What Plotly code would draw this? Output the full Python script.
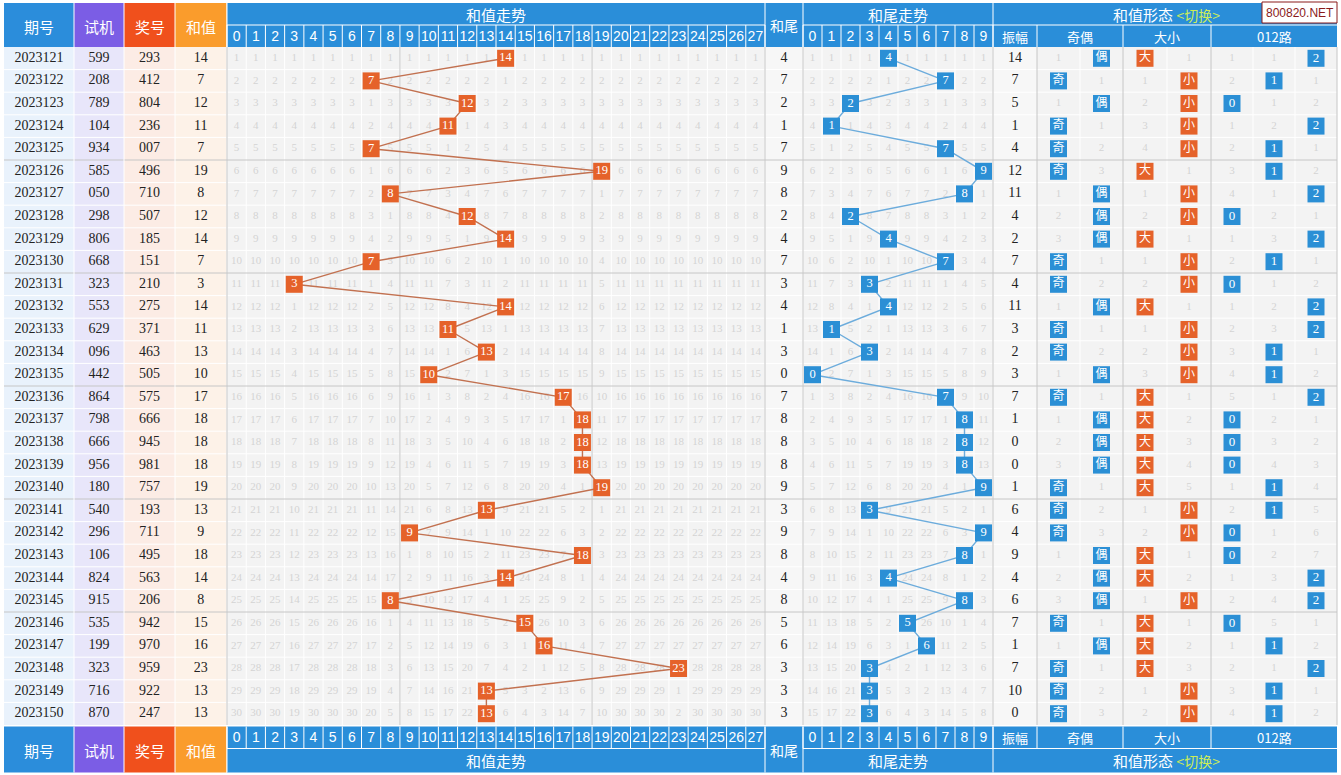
import plotly.graph_objects as go

# ---------------- data ----------------
issues = ["2023121", "2023122", "2023123", "2023124", "2023125", "2023126", "2023127", "2023128",
          "2023129", "2023130", "2023131", "2023132", "2023133", "2023134", "2023135", "2023136",
          "2023137", "2023138", "2023139", "2023140", "2023141", "2023142", "2023143", "2023144",
          "2023145", "2023146", "2023147", "2023148", "2023149", "2023150"]
test_nums = ["599", "208", "789", "104", "934", "585", "050", "298", "806", "668", "323", "553",
             "629", "096", "442", "864", "798", "666", "956", "180", "540", "296", "106", "824",
             "915", "535", "199", "323", "716", "870"]
draw_nums = ["293", "412", "804", "236", "007", "496", "710", "507", "185", "151", "210", "275",
             "371", "463", "505", "575", "666", "945", "981", "757", "193", "711", "495", "563",
             "206", "942", "970", "959", "922", "247"]
sums = [14, 7, 12, 11, 7, 19, 8, 12, 14, 7, 3, 14, 11, 13, 10, 17, 18, 18, 18, 19, 13, 9, 18, 14,
        8, 15, 16, 23, 13, 13]
tails = [4, 7, 2, 1, 7, 9, 8, 2, 4, 7, 3, 4, 1, 3, 0, 7, 8, 8, 8, 9, 3, 9, 8, 4, 8, 5, 6, 3, 3, 3]
amplitude = [14, 7, 5, 1, 4, 12, 11, 4, 2, 7, 4, 11, 3, 2, 3, 7, 1, 0, 0, 1, 6, 4, 9, 4, 6, 7, 1,
             7, 10, 0]
parity = ["偶", "奇", "偶", "奇", "奇", "奇", "偶", "偶", "偶", "奇", "奇", "偶", "奇", "奇", "偶",
          "奇", "偶", "偶", "偶", "奇", "奇", "奇", "偶", "偶", "偶", "奇", "偶", "奇", "奇", "奇"]
size_lbl = ["大", "小", "小", "小", "小", "大", "小", "小", "大", "小", "小", "大", "小", "小", "小",
            "大", "大", "大", "大", "大", "小", "小", "大", "大", "小", "大", "大", "大", "小", "小"]
route = [2, 1, 0, 2, 1, 1, 2, 0, 2, 1, 0, 2, 2, 1, 1, 2, 0, 0, 0, 1, 1, 0, 0, 2, 2, 0, 1, 2, 1, 1]
sum_ticks = [str(v) for v in range(28)]
tail_ticks = [str(v) for v in range(10)]
parity_cats = ["奇", "偶"]
size_cats = ["大", "小"]
route_cats = ["0", "1", "2"]

# ---------------- geometry / style ----------------
W, H = 1341, 775
HDR_TOP, HDR_MID, HDR_BOT = 3, 25, 47
Y0, RH = 47.0, 22.6
N = len(issues)
DATA_BOT = Y0 + N * RH
FT_TOP = DATA_BOT + 1.5
FT_MID = FT_TOP + 22
FT_BOT = FT_TOP + 46
RIGHT = 1337

LEFT_COLS = [(4, 74), (74, 124), (124, 175), (175, 226.5)]
LEFT_HDR = ["#2b8ddb", "#7b5de5", "#f0501c", "#fa9c2c"]
LEFT_BG = ["#e9f2fc", "#e8e6fa", "#fcece5", "#fdf2e8"]
LEFT_LBL = ["期号", "试机", "奖号", "和值"]

SX0, SX1 = 227.0, 765.0
SW = (SX1 - SX0) / 28
TX0, TX1 = 803.0, 993.0
TW = (TX1 - TX0) / 10
AMP = (993.0, 1037.0)
PAR = (1037.0, 1123.0)
SIZ = (1123.0, 1211.0)
ROU = (1211.0, RIGHT)

BLUE = "#2a8ed9"
ORANGE = "#e5622a"
MBLUE = "#2b8fd5"
FAINT = "#d3d3d3"
SEP = "#c6c6c6"
SERIF = "Liberation Serif"
CJK = "Noto Sans CJK SC"


def sx(v):
    return SX0 + (v + 0.5) * SW


def tx(v):
    return TX0 + (v + 0.5) * TW


def ry(i):
    return Y0 + (i + 0.5) * RH


def subx(rng, k, n):
    w = (rng[1] - rng[0]) / n
    return rng[0] + (k + 0.5) * w


shapes = []


def rect(x0, y0, x1, y1, fill, line=None):
    shapes.append(dict(type="rect", xref="x", yref="y", x0=x0, y0=y0, x1=x1, y1=y1,
                       fillcolor=fill, line=dict(width=1 if line else 0, color=line or fill),
                       layer="below"))


def seg(x0, y0, x1, y1, color, width=1):
    shapes.append(dict(type="line", xref="x", yref="y", x0=x0, y0=y0, x1=x1, y1=y1,
                       line=dict(color=color, width=width), layer="below"))


# backgrounds
for (a, b), bg in zip(LEFT_COLS, LEFT_BG):
    rect(a, Y0, b, DATA_BOT, bg)
rect(SX0, Y0, RIGHT, DATA_BOT, "#f3f3f3")
rect(SX1, Y0, TX0, DATA_BOT, "#f7f7f7")
rect(AMP[0], Y0, AMP[1], DATA_BOT, "#f7f7f7")

# white inner grid
for k in range(29):
    seg(SX0 + k * SW, Y0, SX0 + k * SW, DATA_BOT, "#ffffff")
for k in range(11):
    seg(TX0 + k * TW, Y0, TX0 + k * TW, DATA_BOT, "#ffffff")
for rng, n in ((PAR, 2), (SIZ, 2), (ROU, 3)):
    w = (rng[1] - rng[0]) / n
    for k in range(1, n):
        seg(rng[0] + k * w, Y0, rng[0] + k * w, DATA_BOT, "#ffffff")
for i in range(1, N):
    if i % 5:
        seg(4, Y0 + i * RH, RIGHT, Y0 + i * RH, "#ffffff")

# group separators
for i in range(5, N, 5):
    seg(4, Y0 + i * RH, RIGHT, Y0 + i * RH, SEP)
for xv in (SX0, SX0 + 9 * SW, SX0 + 19 * SW, SX1, TX0, TX1, AMP[1], PAR[1], SIZ[1], RIGHT):
    seg(xv, Y0, xv, DATA_BOT, SEP)
for a, b in LEFT_COLS[1:]:
    seg(a, Y0, a, DATA_BOT, "#ffffff")

# header & footer bands
annotations = []


def lbl(x, y, text, size=15, color="white", family=CJK):
    annotations.append(dict(x=x, y=y, xref="x", yref="y", text=text, showarrow=False,
                            font=dict(size=size, color=color, family=family),
                            xanchor="center", yanchor="middle"))


for top, mid, bot, footer in ((HDR_TOP, HDR_MID, HDR_BOT, False), (FT_TOP, FT_MID, FT_BOT, True)):
    rect(SX0, top, RIGHT, bot, BLUE)
    for (a, b), col, t in zip(LEFT_COLS, LEFT_HDR, LEFT_LBL):
        rect(a, top, b, bot, col)
        lbl((a + b) / 2, (top + bot) / 2 + 1, t, 15)
    for (a, b) in LEFT_COLS[1:]:
        seg(a, top, a, bot, "#ffffff")
    seg(SX0, top, SX0, bot, "#ffffff")
    num_top, num_bot = (mid, bot) if not footer else (top, mid)
    ttl_y = (top + mid) / 2 if not footer else (mid + bot) / 2
    # number row borders
    seg(SX0, mid, SX1, mid, "#ffffff")
    seg(TX0, mid, RIGHT, mid, "#ffffff")
    for k in range(29):
        seg(SX0 + k * SW, num_top, SX0 + k * SW, num_bot, "#ffffff")
    for k in range(11):
        seg(TX0 + k * TW, num_top, TX0 + k * TW, num_bot, "#ffffff")
    for xv in (SX1, TX0, TX1):
        seg(xv, top, xv, bot, "#ffffff")
    for xv in (AMP[1], PAR[1], SIZ[1]):
        seg(xv, num_top, xv, num_bot, "#ffffff")
    lbl((SX0 + SX1) / 2, ttl_y, "和值走势", 15)
    lbl((SX1 + TX0) / 2, (top + bot) / 2, "和尾", 14)
    lbl((TX0 + TX1) / 2, ttl_y, "和尾走势", 15)
    lbl(1166, ttl_y, "和值形态 <span style='color:#cdec58;font-size:14px'>&lt;切换&gt;</span>", 15)
    ny = (num_top + num_bot) / 2
    lbl((AMP[0] + AMP[1]) / 2, ny, "振幅", 13)
    lbl((PAR[0] + PAR[1]) / 2, ny, "奇偶", 13)
    lbl((SIZ[0] + SIZ[1]) / 2, ny, "大小", 13)
    lbl((ROU[0] + ROU[1]) / 2, ny, "012路", 13)

# watermark
rect(1262, 2, 1337, 23, "#ffffff", "#8a1b1b")
lbl(1299.5, 12.5, "800820.NET", 12, "#8a1b1b", "Liberation Sans")

traces = []


def text_trace(xs, ys, texts, size=14, color="#222222", family=SERIF):
    traces.append(go.Scatter(x=xs, y=ys, mode="text", text=texts, textposition="middle center",
                             textfont=dict(size=size, color=color, family=family),
                             hoverinfo="skip", showlegend=False, cliponaxis=False))


# header / footer number labels
for top, mid, bot, footer in ((HDR_TOP, HDR_MID, HDR_BOT, False), (FT_TOP, FT_MID, FT_BOT, True)):
    ny = (mid + bot) / 2 + 1 if not footer else (top + mid) / 2 + 1
    text_trace([sx(int(t)) for t in sum_ticks], [ny] * 28, sum_ticks, 14, "white", "Liberation Sans")
    text_trace([tx(int(t)) for t in tail_ticks], [ny] * 10, tail_ticks, 14, "white", "Liberation Sans")

rows_y = [ry(i) for i in range(N)]
# left columns text
for (a, b), vals in zip(LEFT_COLS, (issues, test_nums, draw_nums, [str(v) for v in sums])):
    text_trace([(a + b) / 2] * N, rows_y, vals, 14)
text_trace([(SX1 + TX0) / 2] * N, rows_y, [str(v) for v in tails], 14)
text_trace([(AMP[0] + AMP[1]) / 2] * N, rows_y, [str(v) for v in amplitude], 14)


def omissions(hits, ncols):
    last = [None] * ncols
    out = []
    for i, h in enumerate(hits):
        for c in range(ncols):
            if c == h:
                last[c] = i
                continue
            out.append((c, i, i - last[c] if last[c] is not None else i + 1))
    return out


def omission_trace(hits, ncols, xfun):
    om = omissions(hits, ncols)
    text_trace([xfun(c) for c, _, _ in om], [ry(i) for _, i, _ in om], [str(v) for _, _, v in om],
               11, FAINT)


omission_trace(sums, 28, sx)
omission_trace(tails, 10, tx)
omission_trace([parity_cats.index(p) for p in parity], 2, lambda c: subx(PAR, c, 2))
omission_trace([size_cats.index(s) for s in size_lbl], 2, lambda c: subx(SIZ, c, 2))
omission_trace(route, 3, lambda c: subx(ROU, c, 3))

# trend lines
traces.append(go.Scatter(x=[sx(v) for v in sums], y=rows_y, mode="lines",
                         line=dict(color="#c27150", width=1.4), hoverinfo="skip", showlegend=False))
traces.append(go.Scatter(x=[tx(v) for v in tails], y=rows_y, mode="lines",
                         line=dict(color="#6cacdc", width=1.4), hoverinfo="skip", showlegend=False))


def box_trace(xs, ys, texts, color, family=SERIF, size=12.5):
    traces.append(go.Scatter(x=xs, y=ys, mode="markers+text", text=texts,
                             textposition="middle center",
                             marker=dict(symbol="square", size=17, color=color, line=dict(width=0)),
                             textfont=dict(size=size, color="white", family=family),
                             hoverinfo="skip", showlegend=False, cliponaxis=False))


box_trace([sx(v) for v in sums], rows_y, [str(v) for v in sums], ORANGE)
box_trace([tx(v) for v in tails], rows_y, [str(v) for v in tails], MBLUE)
box_trace([subx(PAR, parity_cats.index(p), 2) for p in parity], rows_y, parity, MBLUE, CJK, 12)
box_trace([subx(SIZ, size_cats.index(s), 2) for s in size_lbl], rows_y, size_lbl, ORANGE, CJK, 12)
box_trace([subx(ROU, r, 3) for r in route], rows_y, [str(r) for r in route], MBLUE, SERIF, 13)

fig = go.Figure(traces)
fig.update_layout(
    width=W, height=H, margin=dict(l=0, r=0, t=0, b=0),
    paper_bgcolor="white", plot_bgcolor="white",
    xaxis=dict(range=[0, W], visible=False, fixedrange=True),
    yaxis=dict(range=[H, 0], visible=False, fixedrange=True),
    shapes=shapes, annotations=annotations, showlegend=False,
)
fig.write_html("out.html")
